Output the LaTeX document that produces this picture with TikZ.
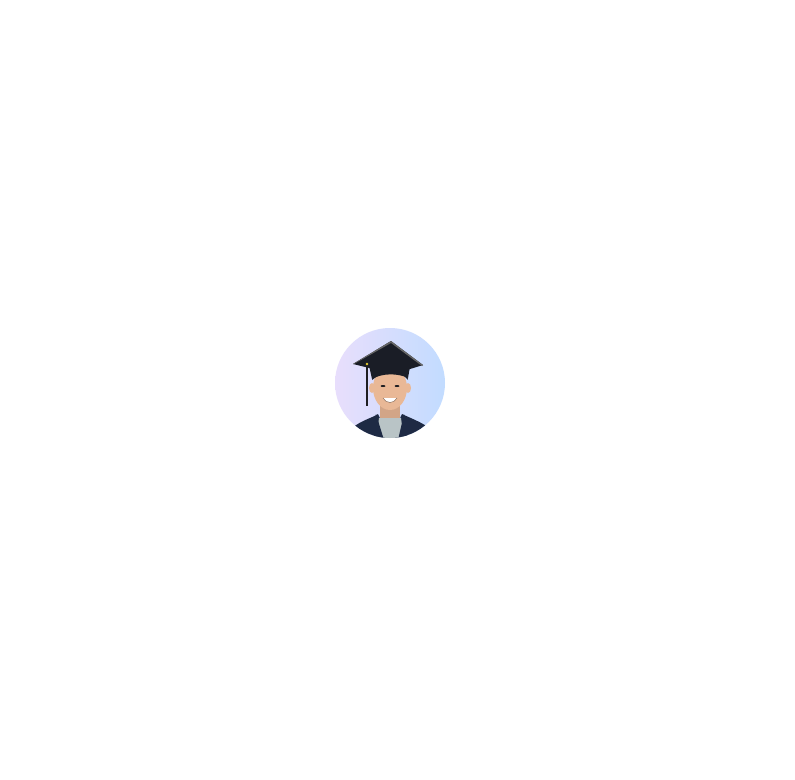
\documentclass[tikz,border=0pt]{standalone}
\begin{document}
\begin{tikzpicture}[x=1pt,y=-1pt]
\definecolor{lav}{HTML}{E8DEFC}\definecolor{sky}{HTML}{C2DCFF}
\definecolor{skin}{HTML}{E9B896}\definecolor{hair}{HTML}{1E1E22}
\definecolor{navy}{HTML}{1E2A44}\definecolor{capcol}{HTML}{1A1D26}
\definecolor{shirt}{HTML}{B9C4C6}
\useasboundingbox (0,0) rectangle (795,779);
\fill[white] (0,0) rectangle (795,779);
\begin{scope}
\clip (390,383) circle (55);
\shade[left color=lav,right color=sky] (335,328) rectangle (445,438);
% neck
\fill[skin!90!black] (380,400) rectangle (400,428);
% jacket
\fill[navy] (345,440) -- (352,428) .. controls (362,420) and (372,418) .. (378,414) -- (390,440) -- (402,414) .. controls (410,418) and (422,422) .. (432,430) -- (440,440) -- cycle;
% shirt
\fill[shirt] (379,418) -- (401,418) -- (404,440) -- (376,440) -- cycle;
\fill[navy] (376,414) -- (384,440) -- (374,440) -- cycle;
\fill[navy] (404,414) -- (398,440) -- (408,440) -- cycle;
% face
\fill[skin] (390,388) ellipse (17 and 22);
\fill[skin] (372,388) ellipse (3 and 5);
\fill[skin] (408,388) ellipse (3 and 5);
% hair
\fill[hair] (372,380) .. controls (372,366) and (408,366) .. (408,380) -- (404,376) .. controls (395,372) and (385,372) .. (376,377) -- cycle;
% eyes, mouth
\fill[hair] (383,386) ellipse (2.5 and 1);
\fill[hair] (397,386) ellipse (2.5 and 1);
\fill[white] (383,398) .. controls (386,404) and (394,404) .. (397,398) -- cycle;
\draw[skin!60!black,line width=0.5pt] (383,398) .. controls (386,404) and (394,404) .. (397,398);
% cap skull
\fill[capcol] (368,361) -- (411,361) -- (408,378) .. controls (398,373) and (382,373) .. (372,379) -- cycle;
% board
\fill[capcol] (391,341) -- (423,365) -- (394,374) -- (353,364) -- cycle;
\fill[black!60] (391,341) -- (423,365) -- (422,366) -- (391,343) -- (354,364) -- (353,364) -- cycle;
% tassel
\fill[hair] (365.5,364) rectangle (368,406);
\fill[yellow!60!brown] (367,364) circle (1.3);
\end{scope}
\end{tikzpicture}
\end{document}
